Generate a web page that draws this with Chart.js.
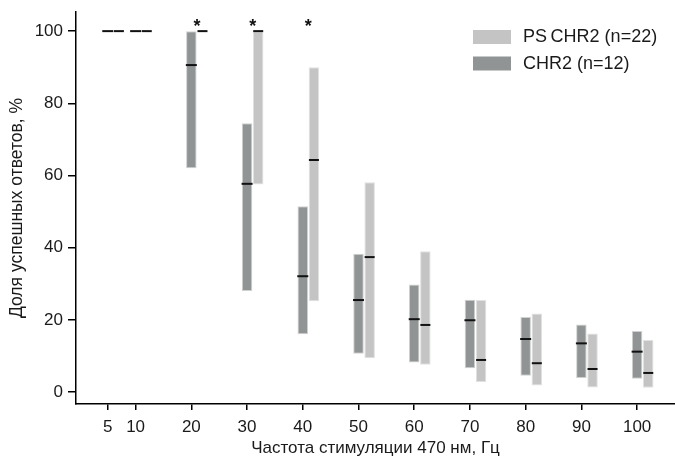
<!DOCTYPE html>
<html>
<head>
<meta charset="utf-8">
<script src="https://cdn.jsdelivr.net/npm/chart.js@4.4.1/dist/chart.umd.min.js"></script>
<style>
  html, body { margin: 0; padding: 0; background: #fff; }
</style>
</head>
<body>
<canvas id="chart" width="675" height="457"></canvas>
<script>
const freqs = [5, 10, 20, 30, 40, 50, 60, 70, 80, 90, 100];
const xTicks = [5, 10, 20, 30, 40, 50, 60, 70, 80, 90, 100];
const yTicks = [0, 20, 40, 60, 80, 100];

const chr2Low    = [100, 100, 62, 28, 16, 10.6, 8.2, 6.6, 4.5, 3.9, 3.7];
const chr2High   = [100, 100, 100, 74.5, 51.5, 38.3, 29.8, 25.6, 20.8, 18.7, 16.9];
const chr2Median = [100, 100, 90.6, 57.7, 32.1, 25.5, 20.2, 19.9, 14.7, 13.5, 11.2];

const psLow    = [100, 100, 100, 57.5, 25.2, 9.4, 7.6, 2.8, 1.8, 1.3, 1.2];
const psHigh   = [100, 100, 100, 100, 90, 58.1, 39, 25.5, 21.8, 16.2, 14.4];
const psMedian = [100, 100, 100, 100, 64.3, 37.4, 18.6, 8.9, 8.0, 6.4, 5.3];

const significant = [20, 30, 40];

const darkGrey = '#919494';
const lightGrey = '#c3c4c3';
const font = 'Liberation Sans';
const textColor = '#1a1a1a';

// PS CHR2 boxes sit just to the right of the CHR2 ones
const psShift = 2;
const xMin = -0.7, xMax = 106.8;

const ranges = (lo, hi) => freqs.map((f, i) => ({ x: f, y: [lo[i], hi[i]] }));
const points = (vals) => freqs.map((f, i) => ({ x: f, y: vals[i] }));

const legendAndStars = {
  id: 'legendAndStars',
  afterDatasetsDraw(chart) {
    const ctx = chart.ctx;
    const x = chart.scales.x, xs = chart.scales.xShift, y = chart.scales.y;
    ctx.save();
    // significance marks
    ctx.fillStyle = '#111';
    ctx.font = 'bold 18px "' + font + '"';
    ctx.textAlign = 'center';
    ctx.textBaseline = 'alphabetic';
    significant.forEach(f => {
      const px = (x.getPixelForValue(f) + xs.getPixelForValue(f)) / 2;
      ctx.fillText('*', px, y.getPixelForValue(100) + 1);
    });
    // legend, PS CHR2 first
    const left = chart.chartArea.right - 202;
    ctx.font = '18px "' + font + '"';
    ctx.textAlign = 'left';
    ctx.textBaseline = 'middle';
    [1, 0].forEach((di, row) => {
      const ds = chart.data.datasets[di];
      const top = 30 + row * 26.5;
      ctx.fillStyle = ds.backgroundColor;
      ctx.fillRect(left, top, 38, 14);
      ctx.fillStyle = textColor;
      ctx.fillText(ds.label, left + 50, top + 7.5);
    });
    ctx.restore();
  }
};

new Chart(document.getElementById('chart').getContext('2d'), {
  type: 'bar',
  data: {
    datasets: [
      {
        label: 'CHR2 (n=12)',
        data: ranges(chr2Low, chr2High),
        xAxisID: 'x',
        backgroundColor: darkGrey,
        borderColor: '#cfd1d0',
        borderWidth: 1,
        borderSkipped: false,
        grouped: false,
        maxBarThickness: 10.5,
        order: 2
      },
      {
        label: 'PS\u2009CHR2 (n=22)',
        data: ranges(psLow, psHigh),
        xAxisID: 'xShift',
        backgroundColor: lightGrey,
        borderColor: '#e0e1e0',
        borderWidth: 1,
        borderSkipped: false,
        grouped: false,
        maxBarThickness: 10.5,
        order: 2
      },
      {
        type: 'scatter',
        label: 'CHR2 median',
        data: points(chr2Median),
        xAxisID: 'x',
        pointStyle: 'line',
        radius: 5.5,
        hoverRadius: 5.5,
        borderWidth: 2,
        borderColor: '#111',
        order: 1
      },
      {
        type: 'scatter',
        label: 'PS CHR2 median',
        data: points(psMedian),
        xAxisID: 'xShift',
        pointStyle: 'line',
        radius: 5,
        hoverRadius: 5,
        borderWidth: 2,
        borderColor: '#111',
        order: 1
      }
    ]
  },
  options: {
    responsive: false,
    animation: false,
    layout: { autoPadding: false, padding: { left: 0, right: 0, top: 12, bottom: 0 } },
    scales: {
      x: {
        type: 'linear',
        min: xMin,
        max: xMax,
        offset: false,
        afterBuildTicks: s => { s.ticks = xTicks.map(v => ({ value: v })); },
        afterFit: s => { s.height = 53; s.paddingLeft = 0; s.paddingRight = 0; },
        grid: { display: true, offset: false, drawOnChartArea: false, drawTicks: true, tickLength: 6, color: '#000', lineWidth: 1.5 },
        border: { display: true, color: '#000', width: 1.5 },
        ticks: { color: textColor, font: { family: font, size: 17 }, padding: 7, maxRotation: 0, autoSkip: false },
        title: {
          display: true,
          text: 'Частота стимуляции 470 нм, Гц',
          color: textColor,
          font: { family: font, size: 17, lineHeight: 1 },
          padding: { top: 0, bottom: 0 }
        }
      },
      xShift: {
        type: 'linear',
        display: false,
        min: xMin - psShift,
        max: xMax - psShift,
        offset: false
      },
      y: {
        min: -3.3,
        max: 105.3,
        afterBuildTicks: s => { s.ticks = yTicks.map(v => ({ value: v })); },
        afterFit: s => { s.width = 76; s.paddingTop = 0; s.paddingBottom = 0; },
        grid: { display: true, drawOnChartArea: false, drawTicks: true, tickLength: 8, color: '#000', lineWidth: 1.5 },
        border: { display: true, color: '#000', width: 1.5 },
        ticks: { color: textColor, font: { family: font, size: 17 }, padding: 5 },
        title: {
          display: true,
          text: 'Доля успешных ответов, %',
          color: textColor,
          font: { family: font, size: 17.5 },
          padding: { top: 7, bottom: 0 }
        }
      }
    },
    plugins: {
      legend: { display: false },
      tooltip: { enabled: false }
    }
  },
  plugins: [legendAndStars]
});
</script>
</body>
</html>
